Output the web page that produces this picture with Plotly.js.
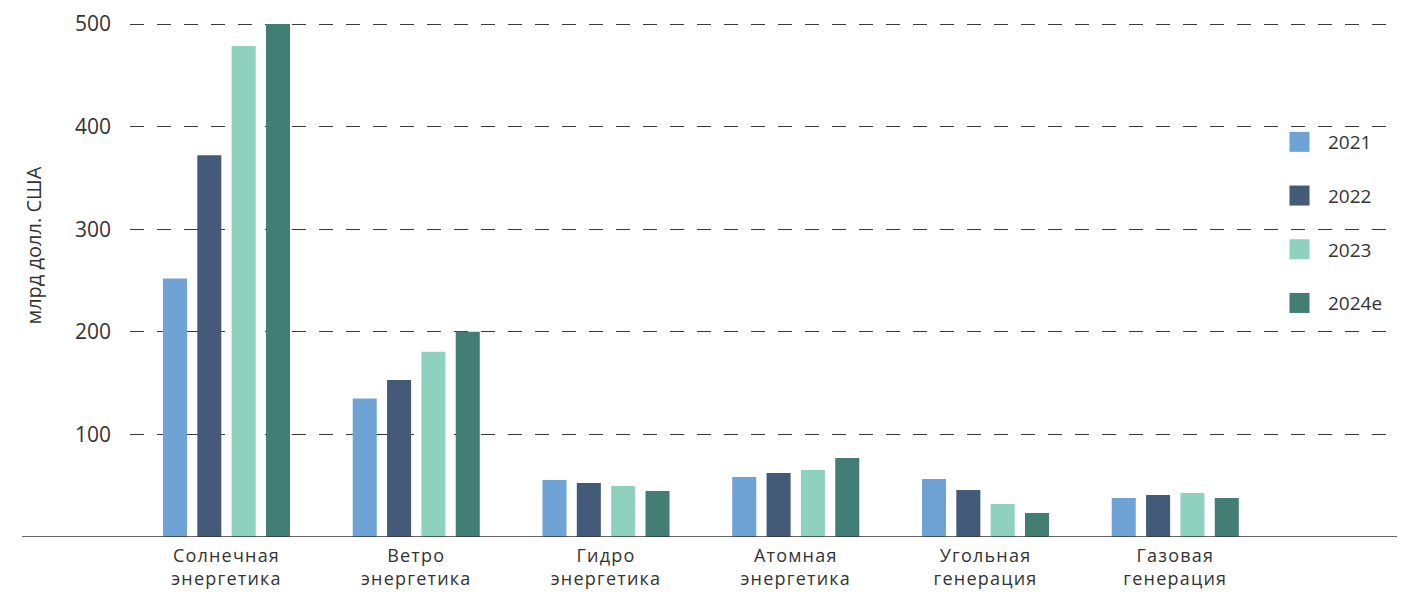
<!DOCTYPE html>
<html>
<head>
<meta charset="utf-8">
<script src="https://cdn.plot.ly/plotly-3.0.1.min.js"></script>
<style>
  html, body { margin: 0; padding: 0; background: #ffffff; }
  #chart { width: 1402px; height: 594px; }
  #chart .xtick text { letter-spacing: 1.2px; }
</style>
</head>
<body>
<div id="chart"></div>
<script>
// ---- data ----
var categories = [
  "Солнечная<br>энергетика",
  "Ветро<br>энергетика",
  "Гидро<br>энергетика",
  "Атомная<br>энергетика",
  "Угольная<br>генерация",
  "Газовая<br>генерация"
];
var seriesNames = ["2021", "2022", "2023", "2024e"];
var values2021 = [252, 135, 55.5, 58.5, 56.5, 38];
var values2022 = [372, 153, 52.6, 62.4, 45.8, 41];
var values2023 = [478.6, 180.5, 49.7, 65.3, 32.2, 43];
var values2024e = [500, 200, 44.8, 77, 23.4, 38];
var yTickValues = [100, 200, 300, 400, 500];
var yAxisTitle = "млрд долл. США";

var seriesValues = [values2021, values2022, values2023, values2024e];
var colors = ["#6fa3d6", "#435a79", "#8fd1bf", "#437e75"];

var FONT = "Open Sans, sans-serif";
var TEXT = "#333333";

var traces = seriesNames.map(function (name, i) {
  return {
    type: "bar",
    name: name,
    x: categories,
    y: seriesValues[i],
    marker: { color: colors[i], line: { width: 0 } },
    legendgroup: "g" + i,
    hoverinfo: "x+y+name"
  };
});

var plotLeft = 130, plotRight = 1395, plotTop = 23, plotBottom = 537;
var pw = plotRight - plotLeft, ph = plotBottom - plotTop;

var layout = {
  width: 1402,
  height: 594,
  margin: { l: plotLeft, r: 1402 - plotRight, t: plotTop, b: 594 - plotBottom, pad: 0 },
  paper_bgcolor: "#ffffff",
  plot_bgcolor: "#ffffff",
  barmode: "group",
  bargap: 0.276,
  bargroupgap: 0.3,
  font: { family: FONT, color: TEXT, size: 19 },
  xaxis: {
    type: "category",
    range: [-0.5085, 6.158],
    showgrid: false,
    zeroline: false,
    showline: false,
    ticks: "",
    ticklabelstandoff: 6,
    tickfont: { family: FONT, size: 18, color: TEXT }
  },
  yaxis: {
    range: [0, 501],
    tickvals: yTickValues,
    showgrid: true,
    gridcolor: "#3a3a3a",
    gridwidth: 1,
    griddash: "14px,13px",
    zeroline: false,
    showline: false,
    ticks: "",
    ticklabelstandoff: 18,
    tickfont: { family: FONT, size: 21, color: TEXT }
  },
  legend: {
    x: (1271 - plotLeft) / pw,
    y: (plotBottom - 123) / ph,
    xanchor: "left",
    yanchor: "top",
    bgcolor: "rgba(0,0,0,0)",
    traceorder: "grouped",
    tracegroupgap: 26,
    itemwidth: 47,
    font: { family: FONT, size: 19, color: TEXT }
  },
  shapes: [{
    type: "line",
    xref: "paper", yref: "y",
    x0: (22 - plotLeft) / pw, x1: (1397 - plotLeft) / pw,
    y0: 0, y1: 0,
    line: { color: "#333333", width: 1.5 },
    layer: "above"
  }],
  annotations: [{
    text: yAxisTitle,
    xref: "paper", yref: "paper",
    x: (33 - plotLeft) / pw,
    y: (plotBottom - 245.5) / ph,
    xanchor: "center", yanchor: "middle",
    textangle: -90,
    showarrow: false,
    font: { family: FONT, size: 20, color: TEXT }
  }]
};

Plotly.newPlot("chart", traces, layout, { displayModeBar: false, staticPlot: true }).then(function (gd) {
  var paths = gd.querySelectorAll(".legend .legendpoints path");
  paths.forEach(function (p) {
    var t = p.getAttribute("transform") || "";
    p.setAttribute("transform", t + " scale(1.67)");
  });
});
</script>
</body>
</html>
